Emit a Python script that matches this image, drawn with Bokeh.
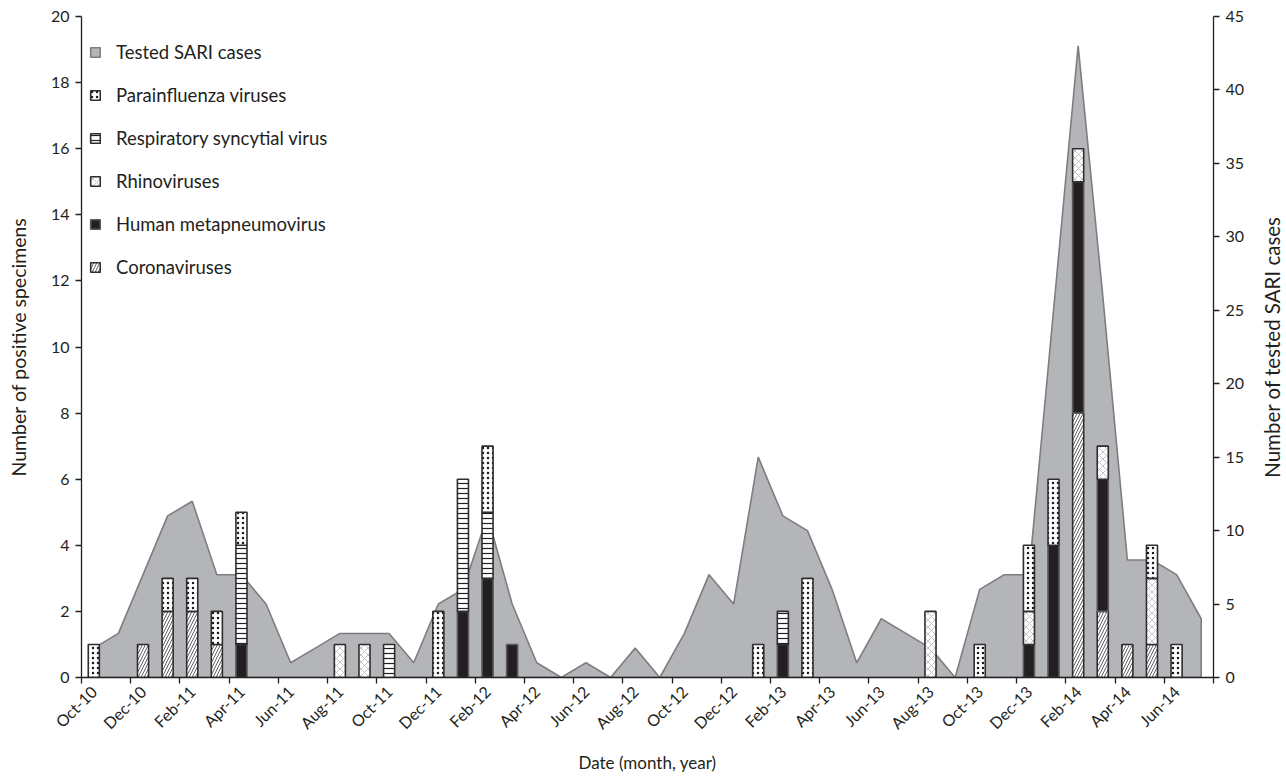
import math
from bokeh.plotting import figure
from bokeh.layouts import row
from bokeh.models import Range1d, LinearAxis, FixedTicker, Legend, LegendItem
from bokeh.core.properties import value
from bokeh.embed import file_html
from bokeh.resources import INLINE

months = ["Oct-10", "Nov-10", "Dec-10",
          "Jan-11", "Feb-11", "Mar-11", "Apr-11", "May-11", "Jun-11",
          "Jul-11", "Aug-11", "Sep-11", "Oct-11", "Nov-11", "Dec-11",
          "Jan-12", "Feb-12", "Mar-12", "Apr-12", "May-12", "Jun-12",
          "Jul-12", "Aug-12", "Sep-12", "Oct-12", "Nov-12", "Dec-12",
          "Jan-13", "Feb-13", "Mar-13", "Apr-13", "May-13", "Jun-13",
          "Jul-13", "Aug-13", "Sep-13", "Oct-13", "Nov-13", "Dec-13",
          "Jan-14", "Feb-14", "Mar-14", "Apr-14", "May-14", "Jun-14", "Jul-14"]

tested_sari = [2, 3, 7, 11, 12, 7, 7, 5, 1, 2, 3, 3, 3, 1, 5, 6, 11, 5, 1, 0, 1, 0, 2, 0,
               3, 7, 5, 15, 11, 10, 6, 1, 4, 3, 2, 0, 6, 7, 7, 25, 43, 26, 8, 8, 7, 4]

coronaviruses = [0, 0, 1, 2, 2, 1, 0, 0, 0, 0, 0, 0, 0, 0, 0, 0, 0, 0, 0, 0, 0, 0, 0, 0,
                 0, 0, 0, 0, 0, 0, 0, 0, 0, 0, 0, 0, 0, 0, 0, 0, 8, 2, 1, 1, 0, 0]
human_metapneumovirus = [0, 0, 0, 0, 0, 0, 1, 0, 0, 0, 0, 0, 0, 0, 0, 2, 3, 1, 0, 0, 0, 0, 0, 0,
                         0, 0, 0, 0, 1, 0, 0, 0, 0, 0, 0, 0, 0, 0, 1, 4, 7, 4, 0, 0, 0, 0]
rhinoviruses = [0, 0, 0, 0, 0, 0, 0, 0, 0, 0, 1, 1, 0, 0, 0, 0, 0, 0, 0, 0, 0, 0, 0, 0,
                0, 0, 0, 0, 0, 0, 0, 0, 0, 0, 2, 0, 0, 0, 1, 0, 1, 1, 0, 2, 0, 0]
respiratory_syncytial = [0, 0, 0, 0, 0, 0, 3, 0, 0, 0, 0, 0, 1, 0, 0, 4, 2, 0, 0, 0, 0, 0, 0, 0,
                         0, 0, 0, 0, 1, 0, 0, 0, 0, 0, 0, 0, 0, 0, 0, 0, 0, 0, 0, 0, 0, 0]
parainfluenza = [1, 0, 0, 1, 1, 1, 1, 0, 0, 0, 0, 0, 0, 0, 2, 0, 2, 0, 0, 0, 0, 0, 0, 0,
                 0, 0, 0, 1, 0, 3, 0, 0, 0, 0, 0, 0, 1, 0, 2, 2, 0, 0, 0, 1, 1, 0]

left_ticks = list(range(0, 21, 2))
right_ticks = list(range(0, 46, 5))

FONT = "Lato"
TXT = "#231f20"

n = len(months)
xs = list(range(n))

FW, FH = 1132, 661
p = figure(frame_width=FW, frame_height=FH,
           x_range=Range1d(-0.5, n - 0.5), y_range=Range1d(0, 20),
           output_backend="svg", toolbar_location=None,
           min_border_left=81, min_border_right=44, min_border_top=16, min_border_bottom=60,
           x_axis_location=None, y_axis_location=None)
p.xgrid.visible = False
p.ygrid.visible = False
p.outline_line_color = None
p.background_fill_color = "white"
p.border_fill_color = "white"
p.extra_y_ranges = {"sari": Range1d(0, 45)}

# area: tested SARI cases (secondary axis)
area_x = xs + xs[::-1]
area_y = tested_sari + [0] * n
sari_r = p.patch(area_x, area_y, y_range_name="sari",
                 fill_color="#b4b5b8", line_color="#7d7e80", line_width=1.6)

# stacked bars (bottom to top)
series = [
    ("Coronaviruses", coronaviruses,
     dict(fill_color="white", hatch_pattern="right_diagonal_line", hatch_color="#3a3a3a",
          hatch_scale=6, hatch_weight=0.8, line_color="#2e2e2e")),
    ("Human metapneumovirus", human_metapneumovirus,
     dict(fill_color="#231f20", line_color="#5a5a5a")),
    ("Rhinoviruses", rhinoviruses,
     dict(fill_color="white", hatch_pattern="diagonal_cross", hatch_color="#ababab",
          hatch_scale=7, hatch_weight=0.7, line_color="#2e2e2e")),
    ("Respiratory syncytial virus", respiratory_syncytial,
     dict(fill_color="white", hatch_pattern="horizontal_line", hatch_color="#231f20",
          hatch_scale=5, hatch_weight=1.2, line_color="#2e2e2e")),
    ("Parainfluenza viruses", parainfluenza,
     dict(fill_color="white", hatch_pattern="dot", hatch_color="#1a1a1a",
          hatch_scale=5, hatch_weight=4, line_color="#2e2e2e")),
]

base = [0] * n
rends = {}
for name, vals, st in series:
    bx, bb, bt = [], [], []
    for i, v in enumerate(vals):
        if v > 0:
            bx.append(xs[i]); bb.append(base[i]); bt.append(base[i] + v)
        base[i] += v
    rends[name] = p.vbar(x=bx, bottom=bb, top=bt, width=0.45, line_width=1.6, **st)

# axes
xax = LinearAxis()
xax.ticker = FixedTicker(ticks=[i for i in xs if i % 2 == 0],
                         minor_ticks=[i - 0.5 for i in range(0, n + 1, 2)])
xax.major_label_overrides = {i: months[i] for i in xs if i % 2 == 0}
xax.major_label_orientation = math.pi / 4
xax.major_tick_line_color = None
xax.minor_tick_line_color = TXT
xax.minor_tick_out = 6
xax.minor_tick_in = 0
xax.minor_tick_line_width = 1.3
xax.axis_label = "Date (month, year)"
xax.axis_label_standoff = 10
p.add_layout(xax, "below")

yax = LinearAxis(ticker=FixedTicker(ticks=left_ticks))
yax.axis_label = "Number of positive specimens"
yax.axis_label_standoff = 18
p.add_layout(yax, "left")

rax = LinearAxis(y_range_name="sari", ticker=FixedTicker(ticks=right_ticks))
p.add_layout(rax, "right")

for ax in (xax, yax, rax):
    ax.axis_line_color = TXT
    ax.axis_line_width = 1.3
    ax.major_label_text_font = FONT
    ax.major_label_text_font_size = "16px"
    ax.major_label_text_color = TXT
    ax.axis_label_text_font = FONT
    ax.axis_label_text_font_size = "19.5px"
    ax.axis_label_text_font_style = "normal"
    ax.axis_label_text_color = TXT
xax.axis_label_text_font_size = "17px"
for ax in (yax, rax):
    ax.major_tick_line_color = TXT
    ax.major_tick_line_width = 1.3
    ax.major_tick_out = 6
    ax.major_tick_in = 0
    ax.minor_tick_line_color = None
    ax.major_label_standoff = 6

legend = Legend(items=[
    LegendItem(label="Tested SARI cases", renderers=[sari_r]),
    LegendItem(label="Parainfluenza viruses", renderers=[rends["Parainfluenza viruses"]]),
    LegendItem(label="Respiratory syncytial virus", renderers=[rends["Respiratory syncytial virus"]]),
    LegendItem(label="Rhinoviruses", renderers=[rends["Rhinoviruses"]]),
    LegendItem(label="Human metapneumovirus", renderers=[rends["Human metapneumovirus"]]),
    LegendItem(label="Coronaviruses", renderers=[rends["Coronaviruses"]]),
], location=(8, 399))
legend.margin = 0
legend.padding = 0
legend.spacing = 21
legend.glyph_width = 12
legend.glyph_height = 12
legend.label_height = 20
legend.label_standoff = 15
legend.label_text_font = FONT
legend.label_text_font_size = "18.5px"
legend.label_text_color = TXT
legend.border_line_color = None
legend.background_fill_alpha = 0
p.add_layout(legend)

# right-hand axis title (reads bottom to top, as in the reference)
side = figure(frame_width=28, frame_height=FH, x_range=Range1d(0, 1), y_range=Range1d(0, 1),
              output_backend="svg", toolbar_location=None,
              min_border_left=0, min_border_right=0, min_border_top=16, min_border_bottom=60,
              x_axis_location=None, y_axis_location=None)
side.xgrid.visible = False
side.ygrid.visible = False
side.outline_line_color = None
side.border_fill_color = "white"
side.text(x=[0.5], y=[0.5], text=["Number of tested SARI cases"], angle=math.pi / 2,
          text_align="center", text_baseline="middle",
          text_font=value(FONT), text_font_size="20.5px", text_color=TXT)

layout = row(p, side)
open("out.html", "w").write(file_html(layout, INLINE))
